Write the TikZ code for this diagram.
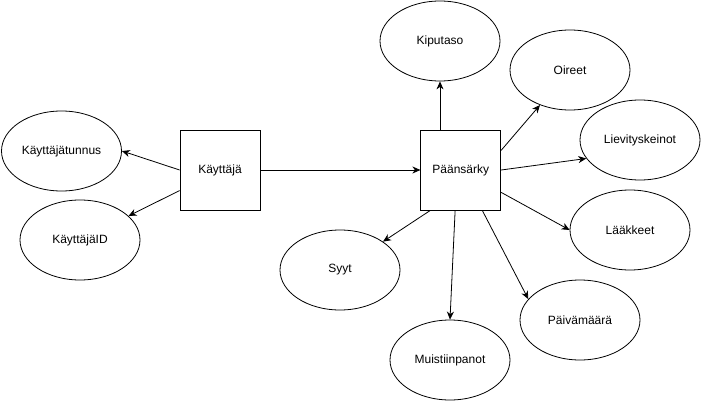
\documentclass[tikz,border=0pt]{standalone}
\usepackage{fontspec}
\setmainfont{Liberation Sans}
\usetikzlibrary{arrows.meta,shapes.geometric,positioning}

\begin{document}
\begin{tikzpicture}[
	x = 1pt, y = -1pt,
	> = {Stealth[length=8pt, width=7pt, inset=2.5pt]}, % arrow head style
	line width = .8pt, % line style
	R/.style={rectangle, draw=black, minimum width=80pt, minimum height=80pt, inner sep=0pt, font=\fontsize{12}{14}\selectfont},  % entity
	E/.style={ellipse, draw=black, minimum width=120pt, minimum height=80pt, inner sep=0pt, font=\fontsize{12}{14}\selectfont},    % attribute
	]
	\useasboundingbox (0,0) rectangle (701,401);

	% Entities
	\node[R] (K) at (220,170) {Käyttäjä};
	\node[R] (P) [right = 160pt of K] {Päänsärky};

	% Attributes of Käyttäjä
	\node[E] (Kt)  at (61.5,151) {Käyttäjätunnus};
	\node[E] (Kid) at (80,240)   {KäyttäjäID};

	% Attributes of Päänsärky
	\node[E] (Kip) at (440,41)  {Kiputaso};
	\node[E] (Oir) at (570,70)  {Oireet};
	\node[E] (Lie) at (640,140) {Lievityskeinot};
	\node[E] (Laa) at (630,230) {Lääkkeet};
	\node[E] (Pvm) at (580,320) {Päivämäärä};
	\node[E] (Mui) at (450,360) {Muistiinpanot};
	\node[E] (Syy) at (340,270) {Syyt};

	% Paths connecting nodes
	\path[->] (K.east) edge (P.west);
	\path[->] (K.west) edge (Kt.east);
	\path[->] (K.-153) edge (Kid);

	\path[->] (P.north -| Kip.south) edge (Kip.south);
	\path[->] (P.26) edge (Oir);
	\path[->] (P.east) edge (Lie.199);
	\path[->] (P.-29) edge (Laa.west);
	\path[->] (P.-62) edge (Pvm.158);
	\path[->] (P.-98) edge (Mui.north);
	\path[->] (P.-127) edge (Syy);

\end{tikzpicture}
\end{document}
